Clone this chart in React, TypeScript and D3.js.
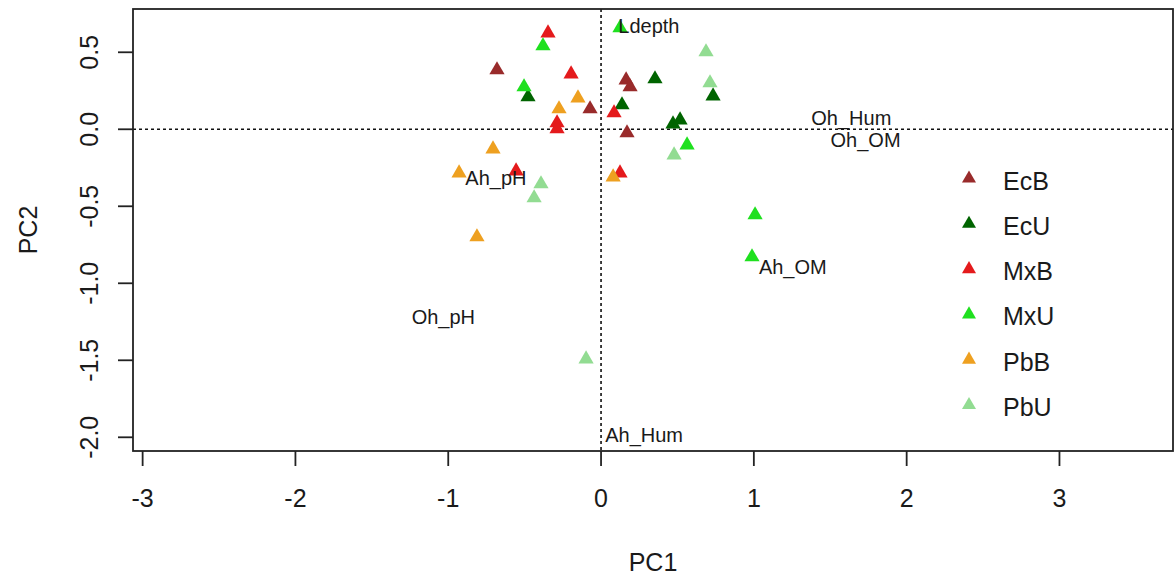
import React from "react";
import * as d3 from "d3";

const groups = ["EcB", "EcU", "MxB", "MxU", "PbB", "PbU"];
const groupColors = ["#992b2b", "#006400", "#e41a1c", "#1fe01f", "#eea020", "#92dc92"];

const ecbPC1 = [-0.681, -0.072, 0.164, 0.19, 0.17];
const ecbPC2 = [0.385, 0.132, 0.32, 0.275, -0.024];
const ecuPC1 = [-0.478, 0.353, 0.137, 0.733, 0.471, 0.517];
const ecuPC2 = [0.21, 0.327, 0.158, 0.216, 0.034, 0.06];
const mxbPC1 = [-0.347, -0.196, -0.288, -0.288, 0.085, -0.556, 0.124];
const mxbPC2 = [0.625, 0.359, 0.041, 0.002, 0.106, -0.271, -0.284];
const mxuPC1 = [-0.38, -0.504, 0.124, 0.563, 1.008, 0.988];
const mxuPC2 = [0.541, 0.275, 0.658, -0.102, -0.556, -0.829];
const pbbPC1 = [-0.275, -0.151, -0.707, -0.929, -0.812, 0.079];
const pbbPC2 = [0.132, 0.203, -0.128, -0.284, -0.699, -0.31];
const pbuPC1 = [0.687, 0.713, -0.393, -0.438, 0.478, -0.098];
const pbuPC2 = [0.502, 0.301, -0.355, -0.446, -0.167, -1.492];

const groupPC1 = [ecbPC1, ecuPC1, mxbPC1, mxuPC1, pbbPC1, pbuPC1];
const groupPC2 = [ecbPC2, ecuPC2, mxbPC2, mxuPC2, pbbPC2, pbuPC2];

const varNames = ["Ldepth", "Oh_Hum", "Oh_OM", "Ah_pH", "Ah_OM", "Oh_pH", "Ah_Hum"];
const varPC1 = [0.313, 1.638, 1.731, -0.688, 1.255, -1.032, 0.282];
const varPC2 = [0.671, 0.073, -0.07, -0.318, -0.892, -1.217, -1.985];

const xTicks = [-3, -2, -1, 0, 1, 2, 3];
const xTickLabels = ["-3", "-2", "-1", "0", "1", "2", "3"];
const yTicks = [0.5, 0.0, -0.5, -1.0, -1.5, -2.0];
const yTickLabels = ["0.5", "0.0", "-0.5", "-1.0", "-1.5", "-2.0"];

const W = 1175;
const H = 577;
const left = 133;
const right = 1173;
const top = 9;
const bottom = 451;

const FONT = "'Liberation Sans', Arial, sans-serif";

export default function App() {
  const x = d3.scaleLinear().domain([-3.063, 3.743]).range([left, right]);
  const y = d3.scaleLinear().domain([-2.089, 0.781]).range([bottom, top]);
  const tri = d3.symbol().type(d3.symbolTriangle).size(100);
  const triLegend = d3.symbol().type(d3.symbolTriangle).size(85);
  const legendY = d3.scaleLinear().domain([0, 1]).range([178.5, 223.8]);

  return (
    <svg
      width={W}
      height={H}
      style={{ position: "absolute", left: 0, top: 0, display: "block", background: "#fff" }}
      fontFamily={FONT}
    >
      <rect x={0} y={0} width={W} height={H} fill="#fff" />
      {/* reference lines */}
      <line x1={x(0)} x2={x(0)} y1={top} y2={bottom} stroke="#111" strokeWidth={1.6} strokeDasharray="3,3" />
      <line x1={left} x2={right} y1={y(0)} y2={y(0)} stroke="#111" strokeWidth={1.6} strokeDasharray="3,3" />

      {/* points */}
      {groups.map((g, gi) =>
        groupPC1[gi].map((v, i) => (
          <path
            key={g + i}
            d={tri() as string}
            transform={`translate(${x(v)},${y(groupPC2[gi][i])})`}
            fill={groupColors[gi]}
          />
        ))
      )}

      {/* variable labels */}
      {varNames.map((n, i) => (
        <text
          key={n}
          x={x(varPC1[i])}
          y={y(varPC2[i]) + 7}
          fontSize={20}
          textAnchor="middle"
          fill="#1a1a1a"
        >
          {n}
        </text>
      ))}

      {/* box */}
      <rect x={left} y={top} width={right - left} height={bottom - top} fill="none" stroke="#222" strokeWidth={1.8} />

      {/* x axis */}
      {xTicks.map((t, i) => (
        <g key={"x" + t}>
          <line x1={x(t)} x2={x(t)} y1={bottom} y2={bottom + 15} stroke="#222" strokeWidth={1.8} />
          <text x={x(t)} y={507} fontSize={25} textAnchor="middle" fill="#1a1a1a">
            {xTickLabels[i]}
          </text>
        </g>
      ))}
      {/* y axis */}
      {yTicks.map((t, i) => (
        <g key={"y" + t}>
          <line x1={left - 15} x2={left} y1={y(t)} y2={y(t)} stroke="#222" strokeWidth={1.8} />
          <text
            transform={`translate(98,${y(t)}) rotate(-90)`}
            fontSize={25}
            textAnchor="middle"
            fill="#1a1a1a"
          >
            {yTickLabels[i]}
          </text>
        </g>
      ))}

      {/* axis titles */}
      <text x={(left + right) / 2} y={571} fontSize={25} textAnchor="middle" fill="#1a1a1a">
        PC1
      </text>
      <text transform={`translate(37,${(top + bottom) / 2}) rotate(-90)`} fontSize={25} textAnchor="middle" fill="#1a1a1a">
        PC2
      </text>

      {/* legend */}
      {groups.map((g, i) => (
        <g key={"leg" + g}>
          <path d={triLegend() as string} transform={`translate(969,${legendY(i)})`} fill={groupColors[i]} />
          <text x={1003} y={legendY(i) + 11} fontSize={25} fill="#1a1a1a">
            {g}
          </text>
        </g>
      ))}
    </svg>
  );
}
